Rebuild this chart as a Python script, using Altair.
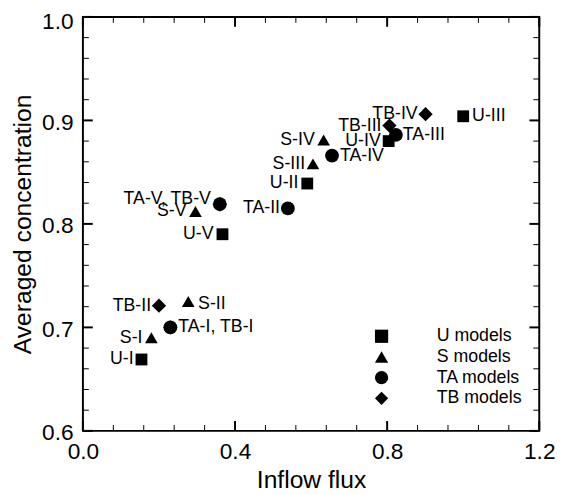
import altair as alt
import pandas as pd

# ---------------- data ----------------
legend_labels = ["U models", "S models", "TA models", "TB models"]
prefixes = ["U", "S", "TA", "TB"]
cases = ["I", "II", "III", "IV", "V"]

u_flux = [0.154, 0.590, 1.000, 0.804, 0.367]
u_conc = [0.669, 0.839, 0.904, 0.880, 0.790]
s_flux = [0.180, 0.277, 0.605, 0.633, 0.296]
s_conc = [0.690, 0.725, 0.858, 0.881, 0.812]
ta_flux = [0.230, 0.539, 0.823, 0.655, 0.360]
ta_conc = [0.700, 0.815, 0.886, 0.866, 0.819]
tb_flux = [0.230, 0.200, 0.806, 0.901, 0.360]
tb_conc = [0.700, 0.721, 0.895, 0.906, 0.819]

x_major = [0.0, 0.4, 0.8, 1.2]
x_minor = [0.08, 0.16, 0.24, 0.32, 0.48, 0.56, 0.64, 0.72, 0.88, 0.96, 1.04, 1.12]
y_major = [0.6, 0.7, 0.8, 0.9, 1.0]
y_minor = [0.62, 0.64, 0.66, 0.68, 0.72, 0.74, 0.76, 0.78, 0.82, 0.84, 0.86, 0.88,
           0.92, 0.94, 0.96, 0.98]

# ---------------- styling ----------------
FONT = "Liberation Sans"
W, H = 463, 420
shapes = ["square", "triangle-up", "circle", "diamond"]
marker_size = {"U models": 144, "S models": 165, "TA models": 196, "TB models": 210}
MAJ, MIN = 10, 6

# label placement: (align, dx, dy)
placement = {
    "U-I": ("right", -8, 0), "U-II": ("right", -9, 0), "U-III": ("left", 9, 0),
    "U-IV": ("right", -8, 0), "U-V": ("right", -9, 0),
    "S-I": ("right", -9, 0), "S-II": ("left", 10, 3), "S-III": ("right", -8, 0),
    "S-IV": ("right", -9, 0), "S-V": ("right", -9, 0),
    "TA-I, TB-I": ("left", 8, 0), "TA-II": ("right", -8, 0), "TA-III": ("left", 7, 0),
    "TA-IV": ("left", 8, 0), "TA-V, TB-V": ("right", -9, -5),
    "TB-II": ("right", -8, 0), "TB-III": ("right", -8, 0), "TB-IV": ("right", -8, 0),
}

# ---------------- tables ----------------
fluxes = [u_flux, s_flux, ta_flux, tb_flux]
concs = [u_conc, s_conc, ta_conc, tb_conc]
rows = []
for g, pre, fx, cy in zip(legend_labels, prefixes, fluxes, concs):
    for c, xv, yv in zip(cases, fx, cy):
        rows.append({"model": g, "label": f"{pre}-{c}", "flux": xv, "conc": yv,
                     "sz": marker_size[g]})
pts = pd.DataFrame(rows)

lab = pts.copy()
lab = lab[~lab["label"].isin(["TB-I", "TB-V"])].copy()
lab["label"] = lab["label"].replace({"TA-I": "TA-I, TB-I", "TA-V": "TA-V, TB-V"})

xscale = alt.Scale(domain=[0, 1.2], nice=False, zero=False)
yscale = alt.Scale(domain=[0.6, 1.0], nice=False, zero=False)

xaxis = alt.Axis(values=x_major, format=".1f", ticks=False, domain=False, grid=False,
                 labelFont=FONT, labelFontSize=23, labelPadding=10, labelColor="black",
                 labelFlush=False, labelOverlap=False,
                 title="Inflow flux", titleFont=FONT, titleFontSize=25,
                 titleFontWeight="normal", titleColor="black", titlePadding=4)
yaxis = alt.Axis(values=y_major, format=".1f", ticks=False, domain=False, grid=False,
                 labelFont=FONT, labelFontSize=23, labelPadding=10, labelColor="black",
                 labelFlush=False, labelOverlap=False,
                 labelOffset={"condition": {"test": "datum.value >= 0.99", "value": 5},
                              "value": 2},
                 title="Averaged concentration", titleFont=FONT, titleFontSize=25,
                 titleFontWeight="normal", titleColor="black", titlePadding=6)

points = alt.Chart(pts).mark_point(filled=True, fill="black", stroke="black",
                                   strokeWidth=0, opacity=1).encode(
    x=alt.X("flux:Q", scale=xscale, axis=xaxis),
    y=alt.Y("conc:Q", scale=yscale, axis=yaxis),
    shape=alt.Shape("model:N", scale=alt.Scale(domain=legend_labels, range=shapes),
                    legend=alt.Legend(title=None, orient="none", legendX=294, legendY=315,
                                      labelFont=FONT, labelFontSize=18, labelColor="black",
                                      labelOffset=47, symbolSize=180, symbolFillColor="black",
                                      symbolStrokeColor="black", symbolStrokeWidth=0,
                                      symbolOpacity=1, rowPadding=3, padding=0)),
    size=alt.Size("sz:Q", scale=None),
)

layers = [points]
lab["align"] = lab["label"].map(lambda s: placement[s][0])
lab["dx"] = lab["label"].map(lambda s: placement[s][1])
lab["dy"] = lab["label"].map(lambda s: placement[s][2])
for (al, dx, dy), sub in lab.groupby(["align", "dx", "dy"]):
    layers.append(
        alt.Chart(sub[["label", "flux", "conc"]]).mark_text(
            align=al, baseline="middle", dx=int(dx), dy=int(dy), font=FONT, fontSize=18,
            color="black").encode(x=alt.X("flux:Q", scale=xscale),
                                  y=alt.Y("conc:Q", scale=yscale), text="label:N")
    )

# inward ticks on all four sides
def xticks(vals, length, width):
    d = pd.DataFrame({"v": vals})
    bottom = alt.Chart(d).mark_rule(color="black", strokeWidth=width).encode(
        x=alt.X("v:Q", scale=xscale), y=alt.value(H), y2=alt.value(H - length))
    top = alt.Chart(d).mark_rule(color="black", strokeWidth=width).encode(
        x=alt.X("v:Q", scale=xscale), y=alt.value(0), y2=alt.value(length))
    return [bottom, top]

def yticks(vals, length, width):
    d = pd.DataFrame({"v": vals})
    left = alt.Chart(d).mark_rule(color="black", strokeWidth=width).encode(
        y=alt.Y("v:Q", scale=yscale), x=alt.value(0), x2=alt.value(length))
    right = alt.Chart(d).mark_rule(color="black", strokeWidth=width).encode(
        y=alt.Y("v:Q", scale=yscale), x=alt.value(W), x2=alt.value(W - length))
    return [left, right]

layers += xticks(x_major, MAJ, 2) + xticks(x_minor, MIN, 1)
layers += yticks(y_major, MAJ, 2) + yticks(y_minor, MIN, 1)

chart = alt.layer(*layers).properties(
    width=W, height=H,
    autosize=alt.AutoSizeParams(type="none"),
    padding={"left": 76, "top": 5.5, "right": 18, "bottom": 61.5},
    background="white",
).configure_view(stroke="black", strokeWidth=2)

chart.save("out.html", embed_options={"renderer": "svg", "actions": False})
